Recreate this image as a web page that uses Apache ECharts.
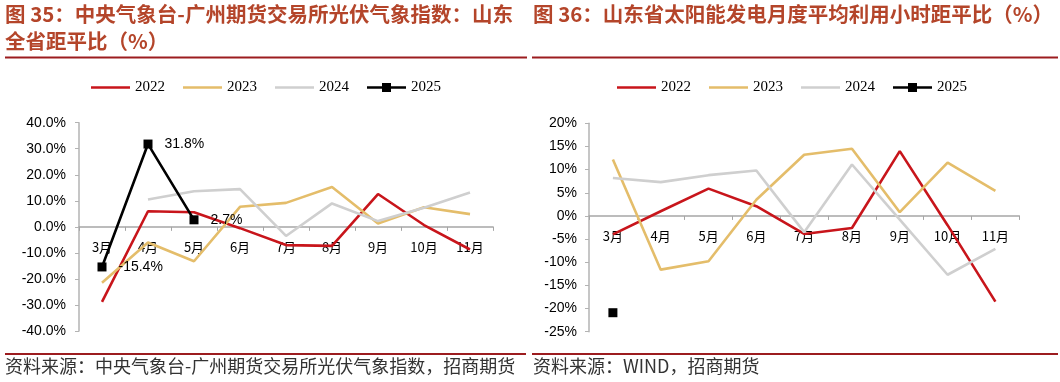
<!DOCTYPE html>
<html>
<head>
<meta charset="utf-8">
<script src="https://cdn.jsdelivr.net/npm/echarts@6/dist/echarts.min.js"></script>
<style>
html,body{margin:0;padding:0;background:#fff;}
#c{width:1060px;height:382px;}
</style>
</head>
<body>
<div id="c"></div>
<script>
// ---- data ----
const months = ['3月','4月','5月','6月','7月','8月','9月','10月','11月'];
const years = ['2022','2023','2024','2025'];

// Left: 中央气象台-广州期货交易所光伏气象指数 山东全省距平比 (%)
const left2022 = [-28.8, 6.0, 5.6, -0.5, -7.0, -7.3, 12.6, 0.7, -8.7];
const left2023 = [-21.5, -6.0, -13.2, 7.7, 9.2, 15.3, 1.3, 7.5, 4.9];
const left2024 = [null, 10.5, 13.7, 14.5, -3.5, 9.0, 2.2, 7.3, 13.2];
const left2025 = [-15.4, 31.8, 2.7, null, null, null, null, null, null];

// Right: 山东省太阳能发电月度平均利用小时距平比 (%)
const right2022 = [-4.0, 1.0, 5.9, 2.1, -3.9, -2.6, 14.0, -2.0, -18.5];
const right2023 = [12.2, -11.6, -9.8, 3.5, 13.2, 14.5, 0.8, 11.5, 5.4];
const right2024 = [8.2, 7.3, 8.8, 9.8, -3.5, 11.1, -0.8, -12.7, -7.1];
const right2025 = [-20.9, null, null, null, null, null, null, null, null];

const leftTicks = {min:-40, max:40, interval:10};
const rightTicks = {min:-25, max:20, interval:5};

const leftTitle1 = '图 35：中央气象台-广州期货交易所光伏气象指数：山东';
const leftTitle2 = '全省距平比（%）';
const rightTitle = '图 36：山东省太阳能发电月度平均利用小时距平比（%）';
const leftSource = '资料来源：中央气象台-广州期货交易所光伏气象指数，招商期货';
const rightSource = '资料来源：WIND，招商期货';

// ---- styles ----
const colors = {'2022':'#c8151b','2023':'#e4bd6a','2024':'#cfcfcf','2025':'#000000'};
const titleColor = '#b4452a';
const ruleColor = '#9c1c1f';
const sans = 'Liberation Sans, Arial, sans-serif';
const cjk = '"Noto Sans CJK SC", sans-serif';

const grids = [
  {left:79, right:567, top:122.7, bottom:51},
  {left:589, right:40.7, top:123.3, bottom:50.3}
];
const H = 382;

// offset that puts the category axis (with its labels) on the value-axis zero line
function zeroOffset(gi, t){
  const g = grids[gi];
  const h = H - g.top - g.bottom;
  return -h * (0 - t.min) / (t.max - t.min);
}

function xAxis(gi, t){
  return {
    type:'category', gridIndex:gi, data:months, boundaryGap:true,
    position:'bottom', offset:zeroOffset(gi, t),
    axisLine:{onZero:false, lineStyle:{color:'#a6a6a6', width:1.5}},
    axisTick:{show:true, length:4, lineStyle:{color:'#a6a6a6'}},
    axisLabel:{color:'#000', fontSize:13, fontFamily:cjk, margin:14, interval:0},
    splitLine:{show:false}
  };
}
function yAxis(gi, t, fmt, margin){
  return {
    type:'value', gridIndex:gi, min:t.min, max:t.max, interval:t.interval,
    axisLine:{show:true, lineStyle:{color:'#b3b3b3', width:1.5}},
    axisTick:{show:true, length:4, lineStyle:{color:'#b3b3b3'}},
    axisLabel:{color:'#000', fontSize:14, fontFamily:sans, margin:margin, formatter:fmt},
    splitLine:{show:false}
  };
}
function lineSeries(name, data, gi){
  return {
    name:name, type:'line', xAxisIndex:gi, yAxisIndex:gi, data:data,
    symbol:'none', connectNulls:false, silent:true,
    lineStyle:{color:colors[name], width:2.6},
    itemStyle:{color:colors[name]}, z:2
  };
}
function blackSeries(data, gi, withLabel){
  return {
    name:'2025', type:'line', xAxisIndex:gi, yAxisIndex:gi, data:data,
    symbol:'rect', symbolSize:9, showSymbol:true, showAllSymbol:true,
    lineStyle:{color:'#000', width:2.6},
    itemStyle:{color:'#000'}, z:5,
    label:{show:withLabel, position:'right', distance:12, color:'#000',
      fontSize:14, fontFamily:sans, formatter:p=>p.value+'%'}
  };
}
const lineIcon = 'path://M0,5.7 L39,5.7 L39,8.3 L0,8.3 Z';
const lineSquareIcon = 'path://M0,5.7 L15,5.7 L15,2.5 L24,2.5 L24,5.7 L39,5.7 L39,8.3 L24,8.3 L24,11.5 L15,11.5 L15,8.3 L0,8.3 Z';
function legend(left){
  return {
    left:left, top:75, itemWidth:39, itemHeight:14, itemGap:18,
    selectedMode:false,
    itemStyle:{borderWidth:0},
    data:years.map(y=>({name:y, icon: y==='2025' ? lineSquareIcon : lineIcon})),
    textStyle:{color:'#000', fontSize:15, fontFamily:'Liberation Serif, Times New Roman, serif'}
  };
}

const chart = echarts.init(document.getElementById('c'), null, {renderer:'canvas'});
chart.setOption({
  animation:false,
  backgroundColor:'#fff',
  legend:[legend(86), legend(612)],
  grid:grids.map(g=>Object.assign({containLabel:false}, g)),
  xAxis:[xAxis(0, leftTicks), xAxis(1, rightTicks)],
  yAxis:[
    yAxis(0, leftTicks, v=>v.toFixed(1)+'%', 13),
    yAxis(1, rightTicks, v=>v+'%', 12)
  ],
  series:[
    lineSeries('2022', left2022, 0),
    lineSeries('2023', left2023, 0),
    lineSeries('2024', left2024, 0),
    blackSeries(left2025, 0, true),
    lineSeries('2022', right2022, 1),
    lineSeries('2023', right2023, 1),
    lineSeries('2024', right2024, 1),
    blackSeries(right2025, 1, false)
  ],
  graphic:[
    {type:'text', left:5, top:4, style:{text:leftTitle1, fill:titleColor, font:'bold 20.5px '+cjk}},
    {type:'text', left:5, top:31, style:{text:leftTitle2, fill:titleColor, font:'bold 20.5px '+cjk}},
    {type:'text', left:533, top:4, style:{text:rightTitle, fill:titleColor, font:'bold 20.5px '+cjk}},
    {type:'line', shape:{x1:5,y1:57.5,x2:527,y2:57.5}, style:{stroke:ruleColor, lineWidth:2}},
    {type:'line', shape:{x1:532,y1:57.5,x2:1058,y2:57.5}, style:{stroke:ruleColor, lineWidth:2}},
    {type:'line', shape:{x1:5,y1:354,x2:526,y2:354}, style:{stroke:ruleColor, lineWidth:2}},
    {type:'line', shape:{x1:532,y1:354,x2:1058,y2:354}, style:{stroke:ruleColor, lineWidth:2}},
    {type:'text', left:5, top:357, style:{text:leftSource, fill:'#333', font:'18px '+cjk}},
    {type:'text', left:533, top:357, style:{text:rightSource, fill:'#333', font:'18px '+cjk}}
  ]
});
</script>
</body>
</html>
